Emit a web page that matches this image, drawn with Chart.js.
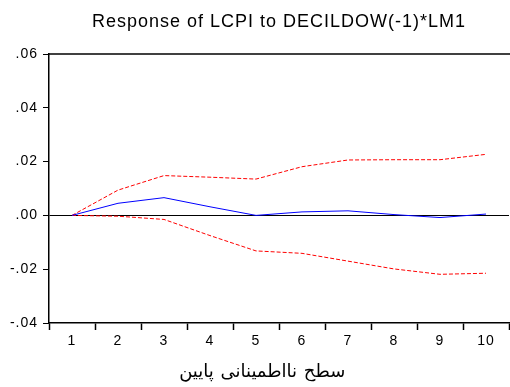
<!DOCTYPE html>
<html>
<head>
<meta charset="utf-8">
<script src="https://cdn.jsdelivr.net/npm/chart.js@4"></script>
<style>
    html, body { margin: 0; padding: 0; background: #fff; }
    #wrap { width: 510px; height: 387px; }
</style>
</head>
<body>
<div id="wrap"><canvas id="irfChart" width="510" height="387"></canvas></div>
<script>
const periods = ['1', '2', '3', '4', '5', '6', '7', '8', '9', '10'];
const response = [0.0000, 0.0045, 0.0066, 0.0032, 0.0000, 0.0013, 0.0017, 0.0003, -0.0008, 0.0005];
const upperBand = [0.0000, 0.0094, 0.0148, 0.0142, 0.0135, 0.0181, 0.0206, 0.0207, 0.0207, 0.0227];
const lowerBand = [0.0000, -0.0003, -0.0015, -0.0075, -0.0132, -0.0141, -0.0170, -0.0199, -0.0219, -0.0215];
const chartTitle = 'Response of LCPI to DECILDOW(-1)*LM1';
const xTitle = 'سطح نااطمینانی پایین';

// eviews style: slightly wider letters and a top frame line
const framePlugin = {
    id: 'frame',
    beforeDraw(chart) {
        chart.ctx.letterSpacing = '1px';
    },
    afterDraw(chart) {
        const { ctx, chartArea } = chart;
        ctx.save();
        ctx.strokeStyle = '#000';
        ctx.lineWidth = 1.5;
        ctx.beginPath();
        ctx.moveTo(chartArea.left, chartArea.top);
        ctx.lineTo(chart.width, chartArea.top);
        ctx.stroke();
        ctx.restore();
    }
};

function fmt(v) {
    const s = Math.abs(v).toFixed(2).replace(/^0/, '');
    return (v < -1e-9 ? '-' : '') + s;
}

const ctx = document.getElementById('irfChart');
new Chart(ctx, {
    type: 'line',
    data: {
        labels: periods,
        datasets: [
            {
                label: 'response',
                data: response,
                borderColor: '#0000ff',
                borderWidth: 1,
                pointRadius: 0,
                tension: 0
            },
            {
                label: 'upper',
                data: upperBand,
                borderColor: '#ff0000',
                borderWidth: 1,
                borderDash: [4, 2],
                pointRadius: 0,
                tension: 0
            },
            {
                label: 'lower',
                data: lowerBand,
                borderColor: '#ff0000',
                borderWidth: 1,
                borderDash: [4, 2],
                pointRadius: 0,
                tension: 0
            }
        ]
    },
    options: {
        responsive: false,
        animation: false,
        layout: { padding: { left: 0, right: 1, top: 0, bottom: 0 } },
        plugins: {
            legend: { display: false },
            tooltip: { enabled: false },
            title: {
                display: true,
                text: chartTitle,
                fullSize: false,
                color: '#000',
                font: { family: 'Liberation Sans, Arial, sans-serif', size: 18, weight: 'normal' },
                padding: { top: 11, bottom: 21.4 }
            }
        },
        scales: {
            x: {
                offset: true,
                grid: {
                    offset: true,
                    drawOnChartArea: false,
                    drawTicks: true,
                    tickLength: 7,
                    tickColor: '#000',
                    tickWidth: 1.5
                },
                border: { display: true, color: '#000', width: 1.5 },
                ticks: {
                    color: '#000',
                    font: { family: 'Liberation Sans, Arial, sans-serif', size: 14 },
                    padding: 3,
                    maxRotation: 0,
                    autoSkip: false
                },
                title: {
                    display: true,
                    text: xTitle + '\u00a0\u00a0\u00a0\u00a0\u00a0',
                    color: '#000',
                    font: { family: 'DejaVu Sans, sans-serif', size: 18 },
                    padding: { top: 4, bottom: 4 }
                },
                afterFit(scale) { scale.height = 64; }
            },
            y: {
                min: -0.04,
                max: 0.06,
                grid: {
                    drawTicks: true,
                    tickLength: 6,
                    tickColor: '#000',
                    tickWidth: 1,
                    color: (c) => (c.tick && Math.abs(c.tick.value) < 1e-9 ? '#000' : 'rgba(0,0,0,0)'),
                    lineWidth: 1
                },
                border: { display: true, color: '#000', width: 1.5 },
                ticks: {
                    stepSize: 0.02,
                    color: '#000',
                    font: { family: 'Liberation Sans, Arial, sans-serif', size: 14 },
                    padding: 5,
                    callback: (v) => fmt(v)
                },
                afterFit(scale) { scale.width = 49; }
            }
        }
    },
    plugins: [framePlugin]
});
</script>
</body>
</html>
